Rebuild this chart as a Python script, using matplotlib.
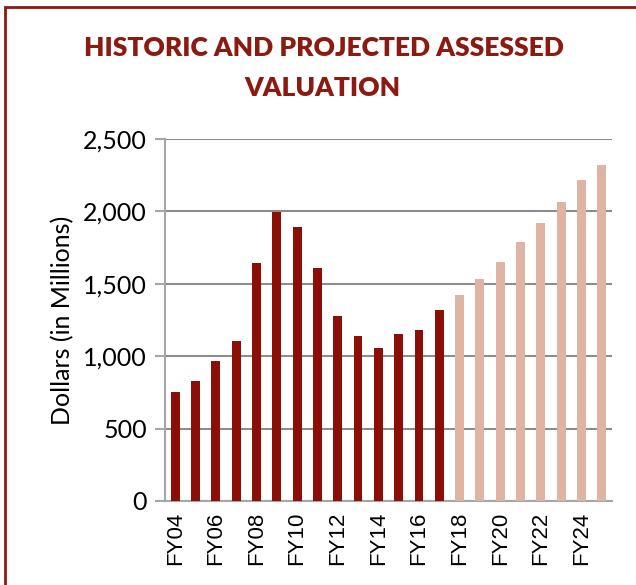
import matplotlib as mpl
import matplotlib.pyplot as plt
from matplotlib.patches import Rectangle

# fiscal years and assessed valuation (millions of dollars)
years = ["FY04", "FY05", "FY06", "FY07", "FY08", "FY09", "FY10", "FY11",
         "FY12", "FY13", "FY14", "FY15", "FY16", "FY17",
         "FY18", "FY19", "FY20", "FY21", "FY22", "FY23", "FY24", "FY25"]
values = [752, 828, 967, 1105, 1643, 1995, 1892, 1608,
          1277, 1139, 1056, 1153, 1181, 1319,
          1422, 1533, 1650, 1788, 1919, 2064, 2216, 2320]
projected = [False] * 14 + [True] * 8

HIST_COLOR = "#8B0F06"
PROJ_COLOR = "#E0B4A4"
TITLE_COLOR = "#8B1A10"
GRID_COLOR = "#8C8C8C"

fig = plt.figure(figsize=(6.36, 5.85), dpi=100)

# dark red frame around the chart (right/bottom edges fall outside the image)
fig.patches.append(Rectangle((5 / 636, -0.05), 1.1, 1 - 7 / 585 + 0.05,
                             transform=fig.transFigure, fill=False,
                             edgecolor=TITLE_COLOR, linewidth=2))

ax = fig.add_axes([165 / 636, 1 - 501 / 585, (612 - 165) / 636, (501 - 139) / 585])

x = list(range(len(years)))
colors = [PROJ_COLOR if p else HIST_COLOR for p in projected]
ax.bar(x, values, width=0.44, color=colors, zorder=3)

ax.set_xlim(-0.5, len(years) - 0.5)
ax.set_ylim(0, 2500)
ax.set_yticks(range(0, 2501, 500))
ax.yaxis.set_major_formatter(mpl.ticker.FuncFormatter(lambda v, p: f"{int(v):,}"))
ax.set_xticks(x[::2])
ax.set_xticklabels(years[::2], rotation=90, fontsize=16, family="Liberation Sans")

for lab in ax.get_yticklabels():
    lab.set_family("Lato")
    lab.set_fontsize(18)

ax.grid(axis="y", color=GRID_COLOR, linewidth=1.5, zorder=0)
for side in ["top", "right"]:
    ax.spines[side].set_visible(False)
for side in ["left", "bottom"]:
    ax.spines[side].set_color("#A6A6A6")
    ax.spines[side].set_linewidth(1.5)
ax.tick_params(axis="y", length=7, width=1.5, color="#A6A6A6", pad=6)
ax.tick_params(axis="x", length=0, pad=8)

ax.set_ylabel("Dollars (in Millions)", fontsize=18, family="Lato", labelpad=6)

fig.text(0.51, 1 - 48 / 585, "HISTORIC AND PROJECTED ASSESSED", ha="center", va="center",
         fontsize=19, fontweight="heavy", family="Lato", color=TITLE_COLOR)
fig.text(0.507, 1 - 88 / 585, "VALUATION", ha="center", va="center",
         fontsize=19, fontweight="heavy", family="Lato", color=TITLE_COLOR)

fig.savefig("out.png", dpi=100)
